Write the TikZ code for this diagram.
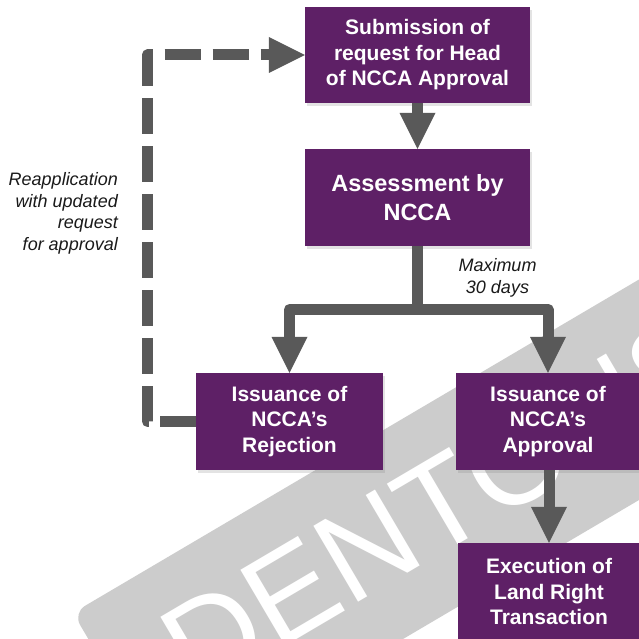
\documentclass[tikz,border=0pt]{standalone}
\usepackage{fontspec}
\setmainfont{Liberation Sans}
\usetikzlibrary{arrows.meta,shadows}
\definecolor{boxpurple}{HTML}{5E2066}
\definecolor{arrgray}{HTML}{595959}
\definecolor{wmgray}{HTML}{CCCCCC}
\definecolor{lblblack}{HTML}{1A1A1A}
\begin{document}
\begin{tikzpicture}[x=1pt,y=-1pt,
  box/.style={fill=boxpurple, text=white, font=\bfseries\fontsize{21}{25.5}\selectfont,
    align=center, inner sep=0pt,
    drop shadow={shadow xshift=2pt,shadow yshift=-3pt,opacity=0.22}},
  bigbox/.style={box, font=\bfseries\fontsize{23.5}{29}\selectfont},
  lbl/.style={text=lblblack, font=\itshape\fontsize{18}{21.5}\selectfont, inner sep=0pt},
  conn/.style={draw=arrgray, line width=11pt, line join=round},
  arr/.style={conn, -{Triangle[width=36pt,length=36pt,line width=0pt]}},
  darr/.style={arr, dash pattern=on 36pt off 12pt},
  wmband/.style={fill=wmgray, rounded corners=14pt, rotate=30.5, minimum width=1000pt, minimum height=190pt, inner sep=0pt},
  wmtext/.style={text=white, rotate=30.5, font=\fontsize{128}{130}\selectfont, inner sep=0pt}
]
\useasboundingbox (0,0) rectangle (639,639);
\fill[white] (0,0) rectangle (639,639);
% watermark
\begin{scope}
  \clip (0,0) rectangle (639,639);
  \node[wmband] (wm) at (552,441) {};
  \node[wmtext] (wmt) at (443,502) {DENTONS};
\end{scope}
% boxes
\node[box, minimum width=225pt, minimum height=96pt] (b1) at (417.5,55) {Submission of\\request for Head\\of NCCA Approval};
\node[bigbox, minimum width=225pt, minimum height=97pt] (b2) at (417.5,197.5) {Assessment by\\NCCA};
\node[box, minimum width=187pt, minimum height=97pt] (b3) at (289.5,421.5) {Issuance of\\NCCA’s\\Rejection};
\node[box, minimum width=184pt, minimum height=97pt] (b4) at (548,421.5) {Issuance of\\NCCA’s\\Approval};
\node[box, minimum width=182pt, minimum height=97pt] (b5) at (549,591.5) {Execution of\\Land Right\\Transaction};
% labels
\node[lbl, align=right, anchor=east] (reapp) at (118,213.5) {Reapplication\\with updated\\request\\for approval};
\node[lbl, align=center] (maxlbl) at (497.5,278) {Maximum\\30 days};
% connectors
\coordinate (split) at (417.5,309.5);
\coordinate (c1) at (147.5,421.5);
\coordinate (c2) at (147.5,55);
\draw[arr] (b1.south) -- (b2.north);
\draw[conn] (b2.south) -- (split);
\draw[arr] (split) -| (b3.north);
\draw[arr] (split) -| (b4.north);
\draw[arr] (b4.south -| b5.north) -- (b5.north);
\draw[darr] (b3.west) -- (c1) -- (c2) -- (b1.west);
\end{tikzpicture}
\end{document}
